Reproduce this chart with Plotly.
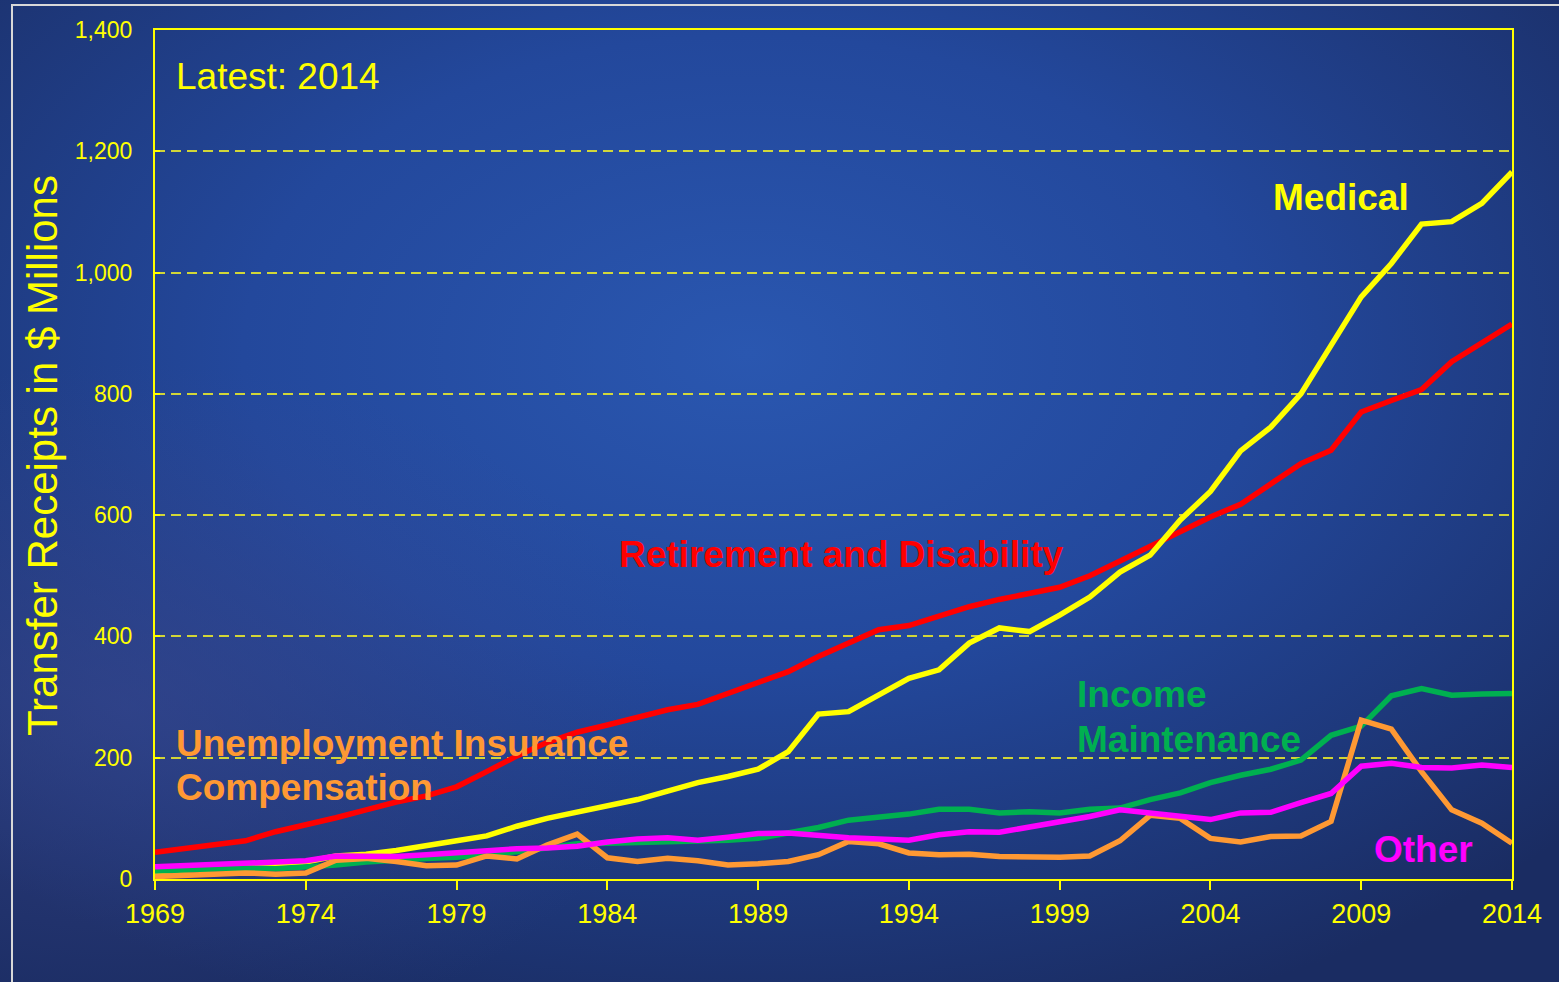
import base64
import plotly.graph_objects as go

# ---------------- data ----------------
years = list(range(1969, 2015))

retirement = [44, 50, 56, 63, 78, 89, 101, 114, 127, 137,
              152, 177, 203, 225, 242, 254, 267, 279, 288, 306,
              322, 342, 367, 389, 411, 418, 434, 449, 461, 471,
              481, 500, 524, 548, 573, 597, 618, 651, 685, 707,
              770, 789, 807, 853, 884, 915]

medical = [12, 15, 18, 21, 25, 28, 38, 41, 47, 56,
           63, 71, 87, 100, 110, 119, 131, 145, 159, 169,
           181, 210, 272, 276, 303, 331, 345, 389, 414, 408,
           435, 465, 506, 534, 592, 639, 706, 745, 800, 878,
           960, 1015, 1080, 1084, 1114, 1166]

income = [13, 15, 17, 18, 17, 19, 23, 28, 32, 34,
          36, 40, 45, 51, 58, 59, 60, 62, 62, 64,
          67, 75, 85, 97, 102, 107, 115, 115, 109, 111,
          109, 115, 117, 131, 142, 159, 171, 181, 196, 237,
          252, 302, 314, 303, 305, 306]

unemployment = [4, 6, 9, 10, 8, 10, 31, 34, 29, 22,
                23, 38, 33, 56, 74, 35, 29, 34, 30, 23,
                25, 29, 40, 62, 58, 43, 40, 41, 37, 36,
                36, 38, 63, 105, 100, 67, 61, 70, 71, 95,
                262, 247, 177, 114, 92, 59]

other = [20, 22, 23, 25, 27, 30, 38, 38, 37, 40,
         43, 48, 50, 51, 54, 61, 66, 68, 64, 69,
         75, 76, 71, 68, 66, 64, 73, 78, 77, 85,
         93, 103, 114, 108, 104, 98, 109, 110, 126, 141,
         186, 191, 184, 183, 188, 184]

x_ticks = list(range(1969, 2015, 5))
y_ticks = list(range(0, 1401, 200))

# ---------------- layout geometry ----------------
W, H = 1559, 982
ML, MR, MT, MB = 155, 47, 30, 103
PW, PH = W - ML - MR, H - MT - MB


def px(x):
    return (x - ML) / PW


def py(y):
    return (H - MB - y) / PH


FONT = "Liberation Sans, Arial, sans-serif"
YEL = "#FFFF00"

series = [
    ("Retirement and Disability", retirement, "#FF0000"),
    ("Medical", medical, "#FFFF00"),
    ("Income Maintenance", income, "#00B050"),
    ("Unemployment Insurance Compensation", unemployment, "#FF9933"),
    ("Other", other, "#FF00FF"),
]

fig = go.Figure()
for name, vals, col in series:
    fig.add_trace(go.Scatter(x=years, y=vals, mode="lines", name=name,
                             line=dict(color=col, width=5.5), showlegend=False,
                             cliponaxis=False))

# background gradient
svg = (
    "<svg xmlns='http://www.w3.org/2000/svg' width='1559' height='982' viewBox='0 0 1559 982' preserveAspectRatio='none'>"
    "<defs>"
    "<radialGradient id='g' cx='0.48' cy='0.36' r='0.72'>"
    "<stop offset='0' stop-color='#2A57B0'/>"
    "<stop offset='0.45' stop-color='#23489C'/>"
    "<stop offset='1' stop-color='#1A2C62'/>"
    "</radialGradient>"
    "<radialGradient id='p' cx='0.08' cy='0.72' r='0.35'>"
    "<stop offset='0' stop-color='#3A4890' stop-opacity='0.6'/>"
    "<stop offset='1' stop-color='#3A4890' stop-opacity='0'/>"
    "</radialGradient>"
    "</defs>"
    "<rect width='1559' height='982' fill='url(#g)'/>"
    "<rect width='1559' height='982' fill='url(#p)'/>"
    "</svg>"
)
src = "data:image/svg+xml;base64," + base64.b64encode(svg.encode()).decode()

fig.add_layout_image(dict(source=src, xref="paper", yref="paper",
                          x=px(0), y=py(0), sizex=W / PW, sizey=H / PH,
                          xanchor="left", yanchor="top", sizing="stretch",
                          layer="below"))

# outer light frame
fig.add_shape(type="rect", xref="paper", yref="paper",
              x0=px(12), x1=px(W + 20), y0=py(H + 20), y1=py(5),
              line=dict(color="#D8D8D8", width=2), fillcolor="rgba(0,0,0,0)",
              layer="below")

annotations = [
    dict(text="Latest: 2014", x=px(174), y=py(76), xanchor="left", yanchor="middle",
         font=dict(size=37, color=YEL, family=FONT)),
    dict(text="<b>Medical</b>", x=px(1341), y=py(198), xanchor="center", yanchor="middle",
         font=dict(size=37, color="#FFFF00", family=FONT)),
    dict(text="<b>Retirement and Disability</b>", x=px(841), y=py(554), xanchor="center", yanchor="middle",
         font=dict(size=37, color="#FF0000", family=FONT)),
    dict(text="<b>Income</b>", x=px(1075), y=py(694), xanchor="left", yanchor="middle",
         font=dict(size=37, color="#00B050", family=FONT)),
    dict(text="<b>Maintenance</b>", x=px(1075), y=py(739), xanchor="left", yanchor="middle",
         font=dict(size=37, color="#00B050", family=FONT)),
    dict(text="<b>Unemployment Insurance</b>", x=px(174), y=py(743), xanchor="left", yanchor="middle",
         font=dict(size=37, color="#FF9933", family=FONT)),
    dict(text="<b>Compensation</b>", x=px(174), y=py(787), xanchor="left", yanchor="middle",
         font=dict(size=37, color="#FF9933", family=FONT)),
    dict(text="<b>Other</b>", x=px(1372), y=py(849), xanchor="left", yanchor="middle",
         font=dict(size=37, color="#FF00FF", family=FONT)),
    dict(text="Transfer Receipts in $ Millions", x=px(42), y=py(456), xanchor="center", yanchor="middle",
         textangle=-90, font=dict(size=42, color=YEL, family=FONT)),
]
for a in annotations:
    a.update(xref="paper", yref="paper", showarrow=False)

fig.update_layout(
    width=W, height=H,
    margin=dict(l=ML, r=MR, t=MT, b=MB, pad=0),
    paper_bgcolor="#213F8A",
    plot_bgcolor="rgba(0,0,0,0)",
    font=dict(family=FONT, color=YEL),
    annotations=annotations,
    showlegend=False,
)

fig.update_xaxes(
    range=[1969, 2014], tickmode="array", tickvals=x_ticks,
    ticktext=[str(t) for t in x_ticks],
    showgrid=False, zeroline=False,
    showline=True, mirror=True, linecolor=YEL, linewidth=2,
    ticks="outside", ticklen=9, tickwidth=2, tickcolor=YEL,
    tickfont=dict(size=27, color=YEL, family=FONT),
    ticklabelstandoff=1,
)
fig.update_yaxes(
    range=[0, 1400], tickmode="array", tickvals=y_ticks,
    ticktext=[f"{t:,}" for t in y_ticks],
    showgrid=True, gridcolor="rgba(240,240,40,0.85)", gridwidth=1.5, griddash="10px,6px",
    zeroline=False,
    showline=True, mirror=True, linecolor=YEL, linewidth=2,
    ticks="inside", ticklen=5, tickwidth=2, tickcolor=YEL,
    tickfont=dict(size=23, color=YEL, family=FONT),
    ticklabelstandoff=16,
)

fig.write_html("out.html", config={"displayModeBar": False},
               post_script="document.body.style.margin='0';document.body.style.overflow='hidden';")
